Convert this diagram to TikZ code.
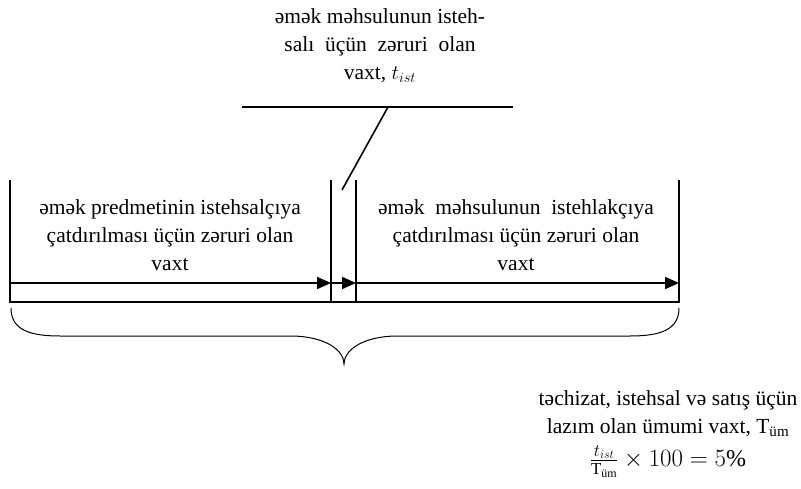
\documentclass[tikz,border=0pt]{standalone}
\usepackage{amsmath}
\usepackage{fontspec}
\setmainfont{Liberation Serif}
\usetikzlibrary{arrows.meta}
\begin{document}
\begin{tikzpicture}[x=1pt,y=-1pt,
  thickline/.style={line width=2pt},
  arr/.style={line width=2pt,-{Triangle[length=14pt,width=12pt]}},
  txt/.style={align=center,inner sep=0pt,font=\fontsize{21.5}{28}\selectfont},
  bracestyle/.style={line width=1pt}]
\useasboundingbox (0,0) rectangle (801,489);
% vertical lines
\coordinate (L1t) at (10,180); \coordinate (L1b) at (10,302);
\coordinate (M1t) at (331,180); \coordinate (M1b) at (331,302);
\coordinate (M2t) at (356,180); \coordinate (M2b) at (356,302);
\coordinate (R1t) at (679,180); \coordinate (R1b) at (679,302);
\draw[thickline] (L1t) -- (L1b) -- (R1b) -- (R1t);
\draw[thickline] (M1t) -- (M1b);
\draw[thickline] (M2t) -- (M2b);
% arrows
\coordinate (A0) at (10,283); \coordinate (A1) at (331,283);
\coordinate (A2) at (356,283); \coordinate (A3) at (679,283);
\draw[arr] (A0) -- (A1);
\draw[arr] (A1) -- (A2);
\draw[arr] (A2) -- (A3);
% top line and diagonal
\coordinate (T0) at (242,107); \coordinate (T1) at (513,107);
\draw[thickline] (T0) -- (T1);
\coordinate (D0) at (388,107); \coordinate (D1) at (342,190);
\draw[line width=1.6pt] (D0) -- (D1);
% brace
\coordinate (B0) at (11,308); \coordinate (B1) at (679,308); \coordinate (Btip) at (344,364);
\draw[bracestyle] (B0) .. controls (11,330) and (30,336) .. (60,336)
  -- (290,336) .. controls (325,336) and (344,350) .. (Btip)
  .. controls (344,350) and (363,336) .. (398,336)
  -- (630,336) .. controls (660,336) and (679,330) .. (B1);
% texts
\node[txt] (top) at (380,46) {əmək məhsulunun isteh-\\salı\ \ üçün\ \ zəruri\ \ olan\\vaxt, $t_{ist}$};
\node[txt] (left) at (170,235) {əmək predmetinin istehsalçıya\\çatdırılması üçün zəruri olan\\vaxt};
\node[txt] (right) at (516,235) {əmək\ \ məhsulunun\ \ istehlakçıya\\çatdırılması üçün zəruri olan\\vaxt};
\node[txt] (bottom) at (668,434) {təchizat, istehsal və satış üçün\\lazım olan ümumi vaxt, $\mathrm{T}_{\text{üm}}$\\[5pt]{\fontsize{24}{28}\selectfont$\frac{t_{ist}}{\mathrm{T}_{\text{üm}}}\times 100 = 5\%$}};
\end{tikzpicture}
\end{document}
